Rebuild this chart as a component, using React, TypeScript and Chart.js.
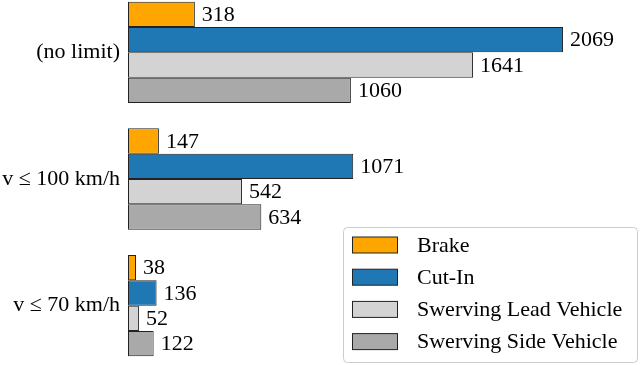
import React, { useEffect, useRef } from "react";
import { Chart, registerables } from "chart.js";

Chart.register(...registerables);

const categories = ["(no limit)", "v ≤ 100 km/h", "v ≤ 70 km/h"];
const seriesNames = ["Brake", "Cut-In", "Swerving Lead Vehicle", "Swerving Side Vehicle"];
const brake = [318, 147, 38];
const cutIn = [2069, 1071, 136];
const swervingLead = [1641, 542, 52];
const swervingSide = [1060, 634, 122];
const seriesColors = ["#FFA500", "#1F77B4", "#D3D3D3", "#A9A9A9"];
const xMax = 2435;

const FONT = "'Liberation Serif', 'Times New Roman', serif";
const FONT_SIZE = 22;
const TOP_SHIFT = 11;

const valueLabels = {
  id: "valueLabels",
  afterDatasetsDraw(chart: any) {
    const ctx = chart.ctx;
    ctx.save();
    ctx.font = `${FONT_SIZE}px ${FONT}`;
    ctx.fillStyle = "#000";
    ctx.textAlign = "left";
    ctx.textBaseline = "middle";
    chart.data.datasets.forEach((ds: any, i: number) => {
      const meta = chart.getDatasetMeta(i);
      meta.data.forEach((el: any, j: number) => {
        ctx.fillText(String(ds.data[j]), el.x + 7, el.y + 1);
      });
    });
    ctx.restore();
  },
};

const boxLegend = {
  id: "boxLegend",
  afterDraw(chart: any) {
    const ctx = chart.ctx;
    ctx.save();
    const x = 343.5, y = 227.5 + TOP_SHIFT, w = 294, h = 135;
    ctx.beginPath();
    ctx.roundRect(x, y, w, h, 4);
    ctx.fillStyle = "rgba(255,255,255,0.85)";
    ctx.fill();
    ctx.strokeStyle = "#CCCCCC";
    ctx.lineWidth = 1;
    ctx.stroke();
    ctx.font = `${FONT_SIZE}px ${FONT}`;
    ctx.textAlign = "left";
    ctx.textBaseline = "middle";
    chart.data.datasets.forEach((ds: any, i: number) => {
      const cy = 245 + TOP_SHIFT + i * 32.2;
      ctx.fillStyle = ds.backgroundColor;
      ctx.fillRect(352.5, cy - 8, 45, 16);
      ctx.strokeStyle = "#222";
      ctx.strokeRect(352.5, cy - 8, 45, 16);
      ctx.fillStyle = "#000";
      ctx.fillText(ds.label, 417, cy + 1);
    });
    ctx.restore();
  },
};

export default function App() {
  const ref = useRef<HTMLCanvasElement | null>(null);
  useEffect(() => {
    if (!ref.current) return;
    const values = [brake, cutIn, swervingLead, swervingSide];
    const chart = new Chart(ref.current, {
      type: "bar",
      data: {
        labels: categories,
        datasets: values.map((d, i) => ({
          label: seriesNames[i],
          data: d,
          backgroundColor: seriesColors[i],
          borderColor: "#222",
          borderWidth: 1,
          borderSkipped: false,
          categoryPercentage: 0.8,
          barPercentage: 1.0,
        })),
      },
      options: {
        indexAxis: "y",
        responsive: false,
        animation: false,
        devicePixelRatio: 1,
        layout: { padding: 0 },
        plugins: { legend: { display: false }, tooltip: { enabled: false } },
        scales: {
          x: { display: false, min: 0, max: xMax },
          y: {
            grid: { display: false, drawTicks: false },
            border: { display: false },
            ticks: { color: "#000", padding: 8, font: { family: FONT, size: FONT_SIZE } },
            afterFit: (scale: any) => {
              scale.width = 128;
              scale.paddingTop = 0;
              scale.paddingBottom = 0;
            },
          },
        },
      },
      plugins: [valueLabels, boxLegend],
    } as any);
    return () => chart.destroy();
  }, []);
  return (
    <div style={{ position: "fixed", left: 0, top: 0, width: 640, height: 365, overflow: "hidden", background: "#fff" }}>
      <canvas ref={ref} width={640} height={380} style={{ display: "block", marginTop: -TOP_SHIFT }} />
    </div>
  );
}
